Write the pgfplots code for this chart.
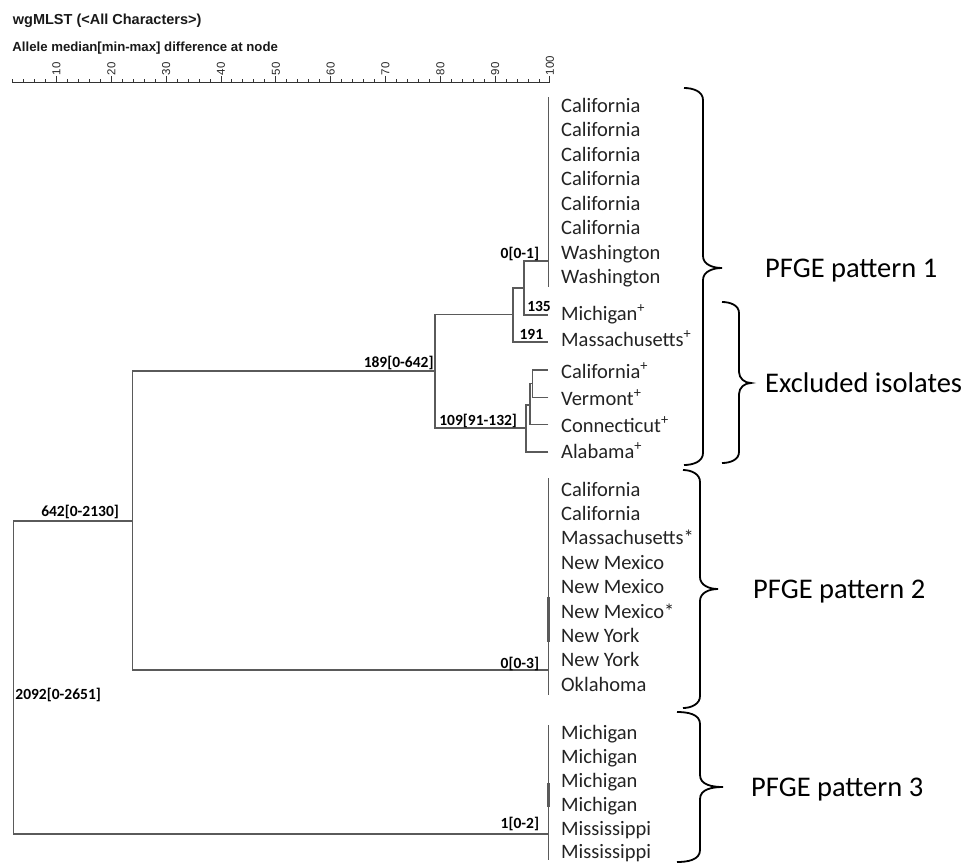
\documentclass[border=0pt]{standalone}
\usepackage{pgfplots}
\pgfplotsset{compat=1.18}
\usepackage{fontspec}
\setmainfont{Carlito}
\newfontfamily\arialf{Liberation Sans}
\definecolor{treegray}{RGB}{90,90,90}
\definecolor{leafgray}{RGB}{35,35,35}
\pgfplotsset{tree/.style={treegray, line width=1.3pt, mark=none}}
% curly brace: xend xmid xtip ytop ytip ybot radius (pixels, y downward)
\newcommand{\curlybrace}[7]{%
 \draw[line width=1.8pt, black] (#1pt,-#4pt) to[out=0,in=90] (#2pt,{-(#4+#7)*1pt}) -- (#2pt,{-(#5-#7)*1pt}) to[out=-90,in=180] (#3pt,-#5pt) to[out=180,in=90] (#2pt,{-(#5+#7)*1pt}) -- (#2pt,{-(#6-#7)*1pt}) to[out=-90,in=0] (#1pt,-#6pt);}
\newcommand{\leaf}[2]{\node[anchor=base west, inner sep=0pt, text=leafgray, font=\fontsize{20.5}{22}\selectfont] at (axis cs:102.0,#1) {#2};}
\newcommand{\nlab}[3]{\node[anchor=base, inner sep=0pt, font=\bfseries\fontsize{15.5}{16}\selectfont] at (axis cs:#1,#2) {#3};}
\begin{document}
\begin{tikzpicture}
\useasboundingbox (0,0) rectangle (973pt,-864pt);
\begin{axis}[at={(0pt,0pt)}, anchor=north west, scale only axis, width=973pt, height=864pt,
  xmin=-0.31, xmax=177.15, ymin=0, ymax=864, y dir=reverse, hide axis, clip=false]
% PFGE pattern 1 cluster (identical isolates)
\addplot[tree] coordinates {(99.7,97) (99.7,287)};
\addplot[tree] coordinates {(99.7,261) (95.26,261) (95.26,315) (99.7,315)};
\addplot[tree] coordinates {(95.26,288) (93.25,288) (93.25,342) (99.7,342)};
\addplot[tree] coordinates {(93.25,314.5) (79.03,314.5) (79.03,428) (95.62,428)};
\addplot[tree] coordinates {(99.7,452) (95.62,452) (95.62,405) (96.35,405)};
\addplot[tree] coordinates {(99.7,424.5) (96.35,424.5) (96.35,383.5) (96.84,383.5)};
\addplot[tree] coordinates {(99.7,397.5) (96.84,397.5) (96.84,370) (99.7,370)};
\addplot[tree] coordinates {(79.03,371) (23.82,371) (23.82,670) (99.7,670)};
% PFGE pattern 2 cluster
\addplot[tree] coordinates {(99.7,478) (99.7,695)};
\addplot[treegray, line width=2.6pt] coordinates {(99.7,597) (99.7,642)};
% root
\addplot[tree] coordinates {(23.82,521) (2.1,521) (2.1,834) (99.7,834)};
% PFGE pattern 3 cluster
\addplot[tree] coordinates {(99.7,725) (99.7,860)};
\addplot[treegray, line width=2.6pt] coordinates {(99.7,783) (99.7,807)};
% node labels
\nlab{94.5}{258}{0[0-1]}
\nlab{98.0}{311}{135}
\nlab{96.6}{339.5}{191}
\nlab{72.4}{367}{189[0-642]}
\nlab{86.9}{425}{109[91-132]}
\nlab{14.3}{516}{642[0-2130]}
\nlab{94.5}{668}{0[0-3]}
\nlab{10.3}{699}{2092[0-2651]}
\nlab{94.5}{828}{1[0-2]}
% leaves
\leaf{112}{California}
\leaf{136.5}{California}
\leaf{161}{California}
\leaf{185.5}{California}
\leaf{210}{California}
\leaf{234.5}{California}
\leaf{259}{Washington}
\leaf{283.5}{Washington}
\leaf{320}{Michigan\textsuperscript{+}}
\leaf{346}{Massachusetts\textsuperscript{+}}
\leaf{378}{California\textsuperscript{+}}
\leaf{405}{Vermont\textsuperscript{+}}
\leaf{432}{Connecticut\textsuperscript{+}}
\leaf{458}{Alabama\textsuperscript{+}}
\leaf{496}{California}
\leaf{520.4}{California}
\leaf{544.8}{Massachusetts*}
\leaf{569.2}{New Mexico}
\leaf{593.6}{New Mexico}
\leaf{618}{New Mexico*}
\leaf{642.4}{New York}
\leaf{666.8}{New York}
\leaf{691.2}{Oklahoma}
\leaf{739}{Michigan}
\leaf{763.2}{Michigan}
\leaf{787.4}{Michigan}
\leaf{811.6}{Michigan}
\leaf{835.8}{Mississippi}
\leaf{858.5}{Mississippi}
\end{axis}
\begin{axis}[at={(12.67pt,-83pt)}, anchor=north west, scale only axis, width=537.3pt, height=5pt,
  xmin=2, xmax=100, ymin=0, ymax=1, axis x line=top, axis y line=none,
  x axis line style={-, line width=1pt, black!80},
  xtick={10,20,...,100}, minor xtick={2,4,...,100}, ytick=\empty,
  tick align=outside, major tick length=7pt, minor tick length=3.5pt,
  every tick/.style={black!80, line width=1pt},
  /pgf/number format/assume math mode=true,
  xticklabel style={font=\arialf\fontsize{11.5}{12}\selectfont, rotate=90, anchor=west, inner sep=0.5pt, text=black!85}]
\addplot[draw=none] coordinates {(2,0) (100,1)};
\end{axis}
\node[anchor=base west, inner sep=0pt, font=\arialf\bfseries\fontsize{14.5}{15}\selectfont, text=black!90] at (12.7pt,-25pt) {wgMLST (<All Characters>)};
\node[anchor=base west, inner sep=0pt, font=\arialf\bfseries\fontsize{13.2}{14}\selectfont, text=black!90] at (12.2pt,-51.7pt) {Allele median[min-max] difference at node};
\curlybrace{684}{703}{722}{88}{268}{465}{12}
\curlybrace{722}{739}{751}{302}{383}{463}{11}
\curlybrace{683}{700}{718}{470}{589}{708}{12}
\curlybrace{677}{700}{723}{712}{787}{862}{12}
\node[anchor=base west, inner sep=0pt, font=\fontsize{28.5}{30}\selectfont] at (765pt,-277pt) {PFGE pattern 1};
\node[anchor=base west, inner sep=0pt, font=\fontsize{28.5}{30}\selectfont] at (765pt,-392pt) {Excluded isolates};
\node[anchor=base west, inner sep=0pt, font=\fontsize{28.5}{30}\selectfont] at (753pt,-598pt) {PFGE pattern 2};
\node[anchor=base west, inner sep=0pt, font=\fontsize{28.5}{30}\selectfont] at (751pt,-796pt) {PFGE pattern 3};
\end{tikzpicture}
\end{document}
